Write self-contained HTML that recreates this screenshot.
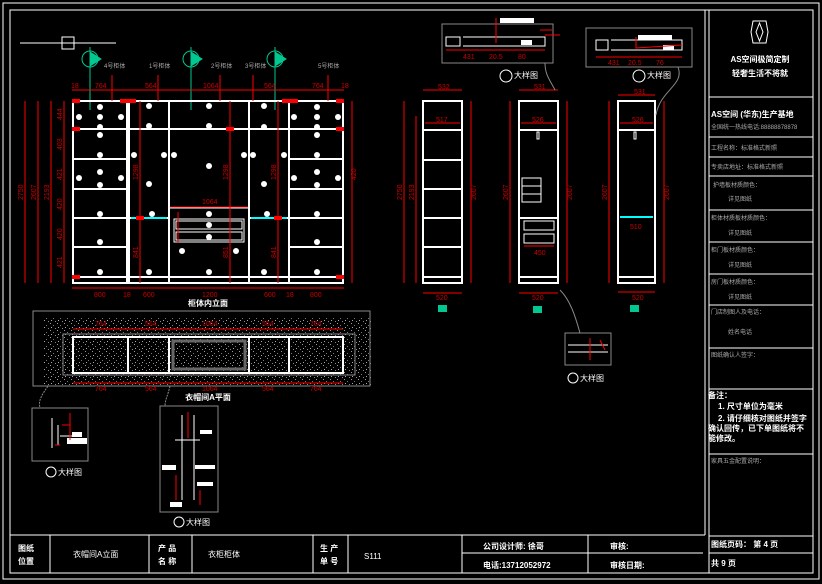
<!DOCTYPE html>
<html><head><meta charset="utf-8"><style>
html,body{margin:0;padding:0;background:#000;}
svg{display:block;font-family:"Liberation Sans","Noto Sans CJK SC",sans-serif;}
.w{stroke:#fff;fill:none;stroke-width:1}
.w2{stroke:#fff;fill:none;stroke-width:2}
.r{stroke:#f00;fill:none;stroke-width:1}
.g{stroke:#888;fill:none;stroke-width:1}
.rt{fill:#c00;font-size:7px}
.wt{fill:#fff;font-size:8px}
.gt{fill:#aaa;font-size:6px}
</style></head><body>
<svg width="822" height="584" viewBox="0 0 822 584" xmlns="http://www.w3.org/2000/svg">
<defs>
<pattern id="dots" width="7" height="7" patternUnits="userSpaceOnUse">
<rect x="1" y="1" width="1" height="1" fill="#999"/><rect x="4" y="3" width="1" height="1" fill="#777"/><rect x="2" y="5" width="1" height="1" fill="#aaa"/><rect x="6" y="6" width="1" height="1" fill="#888"/>
</pattern>
</defs>
<rect width="822" height="584" fill="#000"/>
<!-- frames -->
<rect x="3" y="3" width="816" height="576" class="w"/>
<rect x="10" y="10" width="803" height="563" class="w"/>
<line x1="705" y1="10" x2="705" y2="535" class="w"/>
<line x1="709" y1="10" x2="709" y2="573" class="w"/>
<g class="w">
<line x1="709" y1="97" x2="813" y2="97"/><line x1="709" y1="137" x2="813" y2="137"/>
<line x1="709" y1="157" x2="813" y2="157"/><line x1="709" y1="176" x2="813" y2="176"/>
<line x1="709" y1="210" x2="813" y2="210"/><line x1="709" y1="242" x2="813" y2="242"/>
<line x1="709" y1="274" x2="813" y2="274"/><line x1="709" y1="305" x2="813" y2="305"/>
<line x1="709" y1="348" x2="813" y2="348"/><line x1="709" y1="389" x2="813" y2="389"/>
<line x1="709" y1="454" x2="813" y2="454"/><line x1="709" y1="536" x2="813" y2="536"/>
<line x1="709" y1="553" x2="813" y2="553"/>
</g>
<g class="w"><path d="M753 21 L766 21 L768 32 L766 43 L753 43 L751 32 Z"/><path d="M759.5 23 L763 32 L759.5 41 L756 32 Z"/></g>
<text x="760" y="62" class="wt" text-anchor="middle" font-size="10" font-weight="bold">AS空间极简定制</text>
<text x="760" y="76" class="wt" text-anchor="middle" font-weight="bold">轻奢生活不将就</text>
<text x="711" y="117" class="wt" font-weight="bold">AS空间 (华东)生产基地</text>
<text x="711" y="129" class="gt" font-size="5">全国统一热线电话:88888878878</text>
<text x="711" y="150" class="gt">工程名称：标准格式新照</text>
<text x="711" y="169" class="gt">专卖店地址：标准格式新照</text>
<text x="713" y="187" class="gt">护墙板材质颜色：</text><text x="728" y="201" class="gt">详见图纸</text>
<text x="711" y="220" class="gt">柜体材质板材质颜色：</text><text x="728" y="235" class="gt">详见图纸</text>
<text x="711" y="252" class="gt">柜门板材质颜色：</text><text x="728" y="267" class="gt">详见图纸</text>
<text x="711" y="284" class="gt">房门板材质颜色：</text><text x="728" y="299" class="gt">详见图纸</text>
<text x="711" y="314" class="gt">门店制图人及电话：</text><text x="728" y="334" class="gt">姓名电话</text>
<text x="711" y="357" class="gt">图纸确认人签字：</text>
<text x="708" y="398" class="wt" font-weight="bold">备注：</text>
<text x="718" y="409" class="wt" font-size="7" font-weight="bold">1. 尺寸单位为毫米</text>
<text x="718" y="421" class="wt" font-size="7" font-weight="bold">2. 请仔细核对图纸并签字</text>
<text x="708" y="431" class="wt" font-size="7" font-weight="bold">确认回传，已下单图纸将不</text>
<text x="708" y="441" class="wt" font-size="7" font-weight="bold">能修改。</text>
<text x="711" y="463" class="gt">家具五金配置说明：</text>
<text x="711" y="547" class="wt" font-size="7" font-weight="bold">图纸页码： 第 4 页</text>
<text x="711" y="566" class="wt" font-size="7" font-weight="bold">共  9  页</text>
<g class="w">
<line x1="10" y1="535" x2="705" y2="535"/>
<line x1="50" y1="535" x2="50" y2="573"/><line x1="149" y1="535" x2="149" y2="573"/>
<line x1="192" y1="535" x2="192" y2="573"/><line x1="313" y1="535" x2="313" y2="573"/>
<line x1="348" y1="535" x2="348" y2="573"/><line x1="462" y1="535" x2="462" y2="573"/>
<line x1="588" y1="535" x2="588" y2="573"/><line x1="462" y1="553" x2="703" y2="553"/>
</g>
<text x="18" y="551" class="wt" font-weight="bold">图纸</text><text x="18" y="564" class="wt" font-weight="bold">位置</text>
<text x="73" y="557" class="wt">衣帽间A立面</text>
<text x="158" y="551" class="wt" font-weight="bold">产 品</text><text x="158" y="564" class="wt" font-weight="bold">名 称</text>
<text x="208" y="557" class="wt">衣柜柜体</text>
<text x="320" y="551" class="wt" font-weight="bold">生 产</text><text x="320" y="564" class="wt" font-weight="bold">单 号</text>
<text x="364" y="559" class="wt" font-size="7">S111</text>
<text x="483" y="549" class="wt" font-weight="bold">公司设计师: 徐哥</text>
<text x="483" y="568" class="wt" font-weight="bold">电话:13712052972</text>
<text x="610" y="549" class="wt" font-weight="bold">审核:</text>
<text x="610" y="568" class="wt" font-weight="bold">审核日期:</text>

<line x1="20" y1="43" x2="116" y2="43" class="w"/><rect x="62" y="37" width="12" height="12" class="w"/>
<g stroke="#00c890" fill="none">
<circle cx="90" cy="59" r="8"/><line x1="90" y1="47" x2="90" y2="110"/><path d="M90 52 L101 59 L90 66 Z" fill="#00c890"/>
<circle cx="191" cy="59" r="8"/><line x1="191" y1="47" x2="191" y2="110"/><path d="M191 52 L202 59 L191 66 Z" fill="#00c890"/>
<circle cx="275" cy="59" r="8"/><line x1="275" y1="47" x2="275" y2="110"/><path d="M275 52 L286 59 L275 66 Z" fill="#00c890"/>
</g>
<g class="gt" font-size="5"><text x="104" y="68">4号柜体</text><text x="149" y="68">1号柜体</text><text x="211" y="68">2号柜体</text><text x="245" y="68">3号柜体</text><text x="318" y="68">5号柜体</text></g>
<g class="w2">
<rect x="73" y="101" width="270" height="182"/>
<line x1="127" y1="101" x2="127" y2="283"/><line x1="129" y1="101" x2="129" y2="283"/>
<line x1="169" y1="101" x2="169" y2="283"/><line x1="249" y1="101" x2="249" y2="283"/>
<line x1="289" y1="101" x2="289" y2="283"/>
<line x1="73" y1="277" x2="343" y2="277"/>
<line x1="73" y1="129" x2="343" y2="129"/>
<line x1="73" y1="159" x2="127" y2="159"/><line x1="289" y1="159" x2="343" y2="159"/>
<line x1="73" y1="189" x2="127" y2="189"/><line x1="289" y1="189" x2="343" y2="189"/>
<line x1="73" y1="218" x2="169" y2="218"/><line x1="249" y1="218" x2="343" y2="218"/>
<line x1="73" y1="247" x2="127" y2="247"/><line x1="289" y1="247" x2="343" y2="247"/>
</g>
<g class="w"><rect x="174" y="219" width="70" height="23"/><rect x="176" y="221" width="66" height="8"/><rect x="176" y="232" width="66" height="8"/><line x1="169" y1="208" x2="249" y2="208"/></g>
<line x1="131" y1="218" x2="167" y2="218" stroke="#0ff" stroke-width="2"/><line x1="251" y1="218" x2="287" y2="218" stroke="#0ff" stroke-width="2"/>
<g fill="#fff">
<circle cx="100" cy="107" r="3"/><circle cx="100" cy="117" r="3"/><circle cx="100" cy="127" r="3"/><circle cx="100" cy="135" r="3"/><circle cx="79" cy="117" r="3"/><circle cx="121" cy="117" r="3"/>
<circle cx="100" cy="155" r="3"/><circle cx="100" cy="172" r="3"/><circle cx="100" cy="185" r="3"/><circle cx="79" cy="178" r="3"/><circle cx="121" cy="178" r="3"/>
<circle cx="100" cy="214" r="3"/><circle cx="100" cy="242" r="3"/><circle cx="100" cy="272" r="3"/>
<circle cx="149" cy="106" r="3"/><circle cx="149" cy="126" r="3"/><circle cx="149" cy="184" r="3"/><circle cx="134" cy="155" r="3"/><circle cx="152" cy="214" r="3"/><circle cx="149" cy="272" r="3"/><circle cx="164" cy="155" r="3"/>
<circle cx="209" cy="106" r="3"/><circle cx="209" cy="126" r="3"/><circle cx="209" cy="166" r="3"/><circle cx="209" cy="214" r="3"/><circle cx="209" cy="225" r="3"/><circle cx="209" cy="237" r="3"/><circle cx="182" cy="251" r="3"/><circle cx="236" cy="251" r="3"/><circle cx="209" cy="272" r="3"/><circle cx="174" cy="155" r="3"/><circle cx="244" cy="155" r="3"/>
<circle cx="264" cy="106" r="3"/><circle cx="264" cy="127" r="3"/><circle cx="264" cy="184" r="3"/><circle cx="253" cy="155" r="3"/><circle cx="284" cy="155" r="3"/><circle cx="267" cy="214" r="3"/><circle cx="264" cy="272" r="3"/>
<circle cx="317" cy="107" r="3"/><circle cx="317" cy="117" r="3"/><circle cx="317" cy="127" r="3"/><circle cx="317" cy="135" r="3"/><circle cx="294" cy="117" r="3"/><circle cx="338" cy="117" r="3"/>
<circle cx="317" cy="155" r="3"/><circle cx="317" cy="172" r="3"/><circle cx="317" cy="185" r="3"/><circle cx="294" cy="178" r="3"/><circle cx="338" cy="178" r="3"/>
<circle cx="317" cy="214" r="3"/><circle cx="317" cy="242" r="3"/><circle cx="317" cy="272" r="3"/>
</g>
<g class="r">
<line x1="72" y1="90" x2="344" y2="90"/><line x1="72" y1="288" x2="344" y2="288"/>
<line x1="25" y1="101" x2="25" y2="283"/><line x1="38" y1="101" x2="38" y2="283"/><line x1="51" y1="101" x2="51" y2="283"/><line x1="64" y1="101" x2="64" y2="283"/>
<line x1="352" y1="101" x2="352" y2="283"/>
<line x1="112" y1="75" x2="112" y2="101"/><line x1="158" y1="75" x2="158" y2="101"/><line x1="220" y1="75" x2="220" y2="101"/><line x1="253" y1="75" x2="253" y2="101"/><line x1="328" y1="75" x2="328" y2="101"/>
<line x1="140" y1="101" x2="140" y2="283"/><line x1="230" y1="101" x2="230" y2="283"/><line x1="278" y1="101" x2="278" y2="283"/>
<line x1="170" y1="207" x2="248" y2="207"/><line x1="178" y1="212" x2="178" y2="243"/>
</g>
<g fill="#f00"><rect x="72" y="99" width="8" height="4"/><rect x="336" y="99" width="8" height="4"/><rect x="72" y="127" width="8" height="4"/><rect x="336" y="127" width="8" height="4"/><rect x="72" y="275" width="8" height="4"/><rect x="336" y="275" width="8" height="4"/><rect x="120" y="99" width="16" height="4"/><rect x="282" y="99" width="16" height="4"/><rect x="136" y="216" width="8" height="4"/><rect x="274" y="216" width="8" height="4"/><rect x="226" y="127" width="8" height="4"/></g>
<g class="rt">
<text x="71" y="88">18</text><text x="95" y="88">764</text><text x="145" y="88">564</text><text x="203" y="88">1064</text><text x="264" y="88">564</text><text x="312" y="88">764</text><text x="341" y="88">18</text>
<text x="94" y="297">800</text><text x="123" y="297">18</text><text x="143" y="297">600</text><text x="202" y="297">1200</text><text x="264" y="297">600</text><text x="286" y="297">18</text><text x="310" y="297">800</text>
<text x="202" y="204">1064</text>
<text transform="translate(23 200) rotate(-90)">2750</text><text transform="translate(36 200) rotate(-90)">2607</text><text transform="translate(49 200) rotate(-90)">2193</text>
<text transform="translate(62 120) rotate(-90)">444</text><text transform="translate(62 150) rotate(-90)">403</text><text transform="translate(62 180) rotate(-90)">421</text><text transform="translate(62 210) rotate(-90)">420</text><text transform="translate(62 240) rotate(-90)">420</text><text transform="translate(62 268) rotate(-90)">421</text>
<text transform="translate(138 180) rotate(-90)">1298</text><text transform="translate(228 180) rotate(-90)">1298</text><text transform="translate(276 180) rotate(-90)">1298</text>
<text transform="translate(138 258) rotate(-90)">841</text><text transform="translate(228 258) rotate(-90)">851</text><text transform="translate(276 258) rotate(-90)">841</text>
<text transform="translate(356 180) rotate(-90)">420</text>
</g>
<text x="208" y="306" class="wt" text-anchor="middle" font-weight="bold">柜体内立面</text>

<!-- plan view -->
<rect x="33" y="311" width="337" height="75" class="g"/>
<rect x="44" y="317" width="327" height="69" fill="url(#dots)"/>
<rect x="63" y="334" width="292" height="41" fill="#000" class="g"/>
<g class="w2"><rect x="73" y="337" width="270" height="36"/><line x1="128" y1="337" x2="128" y2="373"/><line x1="169" y1="337" x2="169" y2="373"/><line x1="249" y1="337" x2="249" y2="373"/><line x1="289" y1="337" x2="289" y2="373"/></g>
<rect x="173" y="341" width="72" height="28" stroke="#666" stroke-width="3" fill="none"/>
<g class="r"><line x1="73" y1="329" x2="343" y2="329"/><line x1="73" y1="383" x2="343" y2="383"/></g>
<g class="rt" font-size="6"><text x="95" y="326">764</text><text x="145" y="326">564</text><text x="202" y="326">1064</text><text x="262" y="326">564</text><text x="310" y="326">764</text>
<text x="95" y="391">764</text><text x="145" y="391">564</text><text x="202" y="391">1064</text><text x="262" y="391">564</text><text x="310" y="391">764</text></g>
<text x="208" y="400" class="wt" text-anchor="middle" font-weight="bold" font-size="7">衣帽间A平面</text>

<rect x="32" y="408" width="56" height="53" class="g"/>
<g class="w"><path d="M52 418 L52 448 M58 425 L58 445 M60 436 L80 436"/></g>
<rect x="67" y="438" width="20" height="6" fill="#fff"/><rect x="72" y="432" width="10" height="5" fill="#fff"/>
<g class="r"><path d="M70 413 L70 440 M62 425 L70 425 M55 445 L60 445"/></g>
<circle cx="51" cy="472" r="5" class="w"/><text x="58" y="475" class="wt" font-size="5">大样图</text>
<rect x="160" y="406" width="58" height="106" class="g"/>
<g class="w"><path d="M182 415 L182 500 M194 415 L194 500 M175 440 L200 440"/></g>
<g fill="#fff"><rect x="200" y="430" width="12" height="4"/><rect x="162" y="465" width="14" height="5"/><rect x="195" y="465" width="20" height="4"/><rect x="197" y="482" width="16" height="4"/><rect x="170" y="502" width="12" height="5"/></g>
<g class="r"><path d="M188 412 L188 438 M176 475 L176 500 M200 490 L200 505"/></g>
<circle cx="179" cy="522" r="5" class="w"/><text x="186" y="525" class="wt" font-size="5">大样图</text>
<path d="M48 386 C42 395 38 400 40 408" class="g" stroke-dasharray="2 1"/><path d="M170 386 C168 395 165 400 165 406" class="g" stroke-dasharray="2 1"/>

<g class="w2">
<rect x="423" y="101" width="39" height="182"/><line x1="423" y1="130" x2="462" y2="130"/><line x1="423" y1="160" x2="462" y2="160"/><line x1="423" y1="189" x2="462" y2="189"/><line x1="423" y1="218" x2="462" y2="218"/><line x1="423" y1="247" x2="462" y2="247"/><line x1="423" y1="277" x2="462" y2="277"/>
<rect x="519" y="101" width="39" height="182"/><line x1="519" y1="130" x2="558" y2="130"/><line x1="519" y1="218" x2="558" y2="218"/><line x1="519" y1="277" x2="558" y2="277"/>
<rect x="618" y="101" width="37" height="182"/><line x1="618" y1="130" x2="655" y2="130"/><line x1="618" y1="277" x2="655" y2="277"/>
</g>
<g class="w"><rect x="522" y="178" width="19" height="24"/><line x1="522" y1="186" x2="541" y2="186"/><line x1="522" y1="194" x2="541" y2="194"/><rect x="524" y="221" width="30" height="9"/><rect x="524" y="234" width="30" height="9"/><rect x="537" y="132" width="2" height="7"/><rect x="634" y="132" width="2" height="7"/></g>
<line x1="620" y1="217" x2="653" y2="217" stroke="#0ff" stroke-width="2"/>
<g class="r">
<line x1="404" y1="101" x2="404" y2="283"/><line x1="416" y1="116" x2="416" y2="283"/><line x1="471" y1="101" x2="471" y2="283"/>
<line x1="423" y1="293" x2="462" y2="293"/><line x1="423" y1="90" x2="462" y2="90"/><line x1="425" y1="123" x2="460" y2="123"/>
<line x1="510" y1="101" x2="510" y2="283"/><line x1="567" y1="101" x2="567" y2="283"/>
<line x1="519" y1="293" x2="558" y2="293"/><line x1="519" y1="90" x2="558" y2="90"/><line x1="521" y1="123" x2="556" y2="123"/>
<line x1="609" y1="101" x2="609" y2="283"/><line x1="664" y1="101" x2="664" y2="283"/>
<line x1="618" y1="292" x2="655" y2="292"/><line x1="618" y1="95" x2="655" y2="95"/><line x1="620" y1="123" x2="653" y2="123"/>
<line x1="524" y1="246" x2="554" y2="246"/>
</g>
<g class="rt" font-size="6">
<text x="438" y="89">532</text><text x="436" y="122">517</text><text x="436" y="300">520</text>
<text x="534" y="89">531</text><text x="532" y="122">526</text><text x="532" y="300">520</text><text x="534" y="255">450</text>
<text x="634" y="94">531</text><text x="632" y="122">526</text><text x="632" y="300">520</text><text x="630" y="229">510</text>
<text transform="translate(402 200) rotate(-90)">2750</text><text transform="translate(414 200) rotate(-90)">2193</text><text transform="translate(476 200) rotate(-90)">2607</text>
<text transform="translate(508 200) rotate(-90)">2607</text><text transform="translate(572 200) rotate(-90)">2607</text>
<text transform="translate(607 200) rotate(-90)">2607</text><text transform="translate(669 200) rotate(-90)">2607</text>
</g>
<g fill="#00c890"><rect x="438" y="305" width="9" height="7"/><rect x="533" y="306" width="9" height="7"/><rect x="630" y="305" width="9" height="7"/></g>

<rect x="442" y="24" width="111" height="39" class="g"/>
<g class="w"><path d="M446 37 L460 37 L460 46 L446 46 Z M463 37 L545 37 L545 46 L463 46"/></g>
<rect x="500" y="18" width="34" height="5" fill="#fff"/><rect x="521" y="40" width="11" height="5" fill="#fff"/>
<g class="r"><line x1="446" y1="50" x2="545" y2="50"/><path d="M496 18 L496 43 M540 30 L552 30 M545 35 L560 35"/></g>
<g class="rt" font-size="8"><text x="463" y="59">431</text><text x="489" y="59">20.5</text><text x="518" y="59">80</text></g>
<circle cx="506" cy="76" r="6" class="w"/><text x="514" y="78" class="wt" font-size="5">大样图</text>
<rect x="586" y="28" width="106" height="39" class="g"/>
<g class="w"><path d="M596 40 L608 40 L608 50 L596 50 Z M611 40 L682 40 L682 50 L611 50"/></g>
<rect x="638" y="35" width="34" height="5" fill="#fff"/><rect x="663" y="45" width="11" height="5" fill="#fff"/>
<g class="r"><line x1="596" y1="57" x2="682" y2="57"/><path d="M636 37 L636 48 L682 45"/></g>
<g class="rt" font-size="8"><text x="608" y="65">431</text><text x="628" y="65">20.5</text><text x="656" y="65">76</text></g>
<circle cx="639" cy="76" r="6" class="w"/><text x="647" y="78" class="wt" font-size="5">大样图</text>
<path d="M545 63 C545 75 550 80 555 90" class="g"/><path d="M678 67 C685 85 660 90 656 115" class="g"/>

<rect x="565" y="333" width="46" height="32" class="g"/>
<g class="w"><path d="M568 345 L608 345 M568 352 L608 352"/></g>
<g class="r"><path d="M590 338 L590 360 M600 340 L605 350"/></g>
<circle cx="573" cy="378" r="5" class="w"/><text x="580" y="381" class="wt" font-size="5">大样图</text>
<path d="M560 290 C570 300 575 315 580 333" class="g"/>
</svg>
</body></html>
